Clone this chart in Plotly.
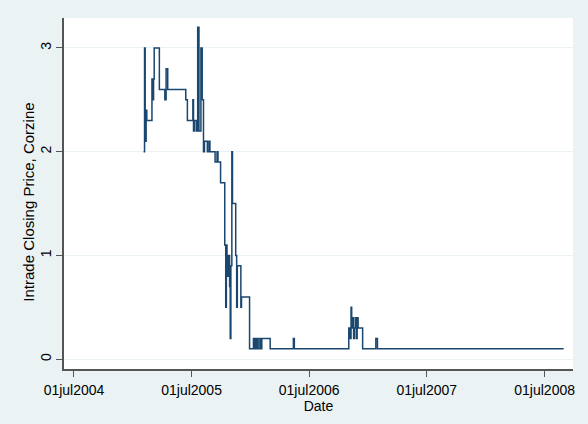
import plotly.graph_objects as go

# Intrade closing price for the Corzine contract (change points; held until next change)
dates = [
    "2005-02-02", "2005-02-05", "2005-02-07", "2005-02-10", "2005-02-12", "2005-02-28",
    "2005-03-03", "2005-03-05", "2005-03-07", "2005-03-23", "2005-04-09", "2005-04-13",
    "2005-04-18", "2005-06-13", "2005-06-18", "2005-07-05", "2005-07-07", "2005-07-10",
    "2005-07-16", "2005-07-20", "2005-07-24", "2005-07-30", "2005-08-03", "2005-08-07",
    "2005-08-10", "2005-08-19", "2005-08-24", "2005-08-27", "2005-09-12", "2005-09-18",
    "2005-09-21", "2005-09-29", "2005-10-12", "2005-10-15", "2005-10-17", "2005-10-19",
    "2005-10-21", "2005-10-23", "2005-10-25", "2005-10-27", "2005-10-29", "2005-10-31",
    "2005-11-03", "2005-11-05", "2005-11-15", "2005-11-18", "2005-11-20", "2005-12-01",
    "2005-12-03", "2005-12-28", "2006-01-09", "2006-01-13", "2006-01-17", "2006-01-21",
    "2006-01-26", "2006-01-31", "2006-02-04", "2006-03-02", "2006-05-13", "2006-05-16",
    "2006-11-01", "2006-11-04", "2006-11-08", "2006-11-10", "2006-11-13", "2006-11-16",
    "2006-11-19", "2006-11-22", "2006-11-25", "2006-11-27", "2006-11-30", "2006-12-14",
    "2007-01-24", "2007-01-29", "2008-08-29",
]
prices = [
    2.0, 3.0, 2.1, 2.4, 2.3, 2.7,
    2.5, 2.7, 3.0, 2.6, 2.5, 2.8,
    2.6, 2.5, 2.3, 2.5, 2.2, 2.3,
    2.2, 3.2, 2.2, 3.0, 2.5, 2.0,
    2.1, 2.0, 2.1, 2.0, 1.9, 2.0,
    1.9, 1.7, 1.1, 0.5, 1.1, 0.8,
    1.0, 0.8, 1.0, 0.7, 0.2, 0.9,
    2.0, 1.5, 1.0, 0.5, 0.9, 0.5,
    0.6, 0.1, 0.2, 0.1, 0.2, 0.1,
    0.2, 0.1, 0.2, 0.1, 0.2, 0.1,
    0.3, 0.2, 0.5, 0.3, 0.4, 0.2,
    0.3, 0.4, 0.2, 0.4, 0.3, 0.1,
    0.2, 0.1, 0.1,
]

x_tickvals = ["2004-07-01", "2005-07-01", "2006-07-01", "2007-07-01", "2008-07-01"]
x_ticktext = ["01jul2004", "01jul2005", "01jul2006", "01jul2007", "01jul2008"]
y_tickvals = [0, 1, 2, 3]

BG = "#EAF2F3"
NAVY = "#1A476F"
AXIS = "#555555"
FONT = "Liberation Sans, Arial, sans-serif"

fig = go.Figure(
    go.Scatter(
        x=dates, y=prices, mode="lines",
        line=dict(color=NAVY, width=1.5, shape="hv"),
        showlegend=False,
    )
)

fig.update_layout(
    width=588, height=424,
    paper_bgcolor=BG, plot_bgcolor="white",
    margin=dict(l=64, r=15, t=18, b=55),
    font=dict(family=FONT, size=14, color="#000000"),
)

fig.update_xaxes(
    type="date",
    range=["2004-05-31", "2008-09-27"],
    tickvals=x_tickvals, ticktext=x_ticktext,
    ticks="outside", ticklen=6, tickcolor=AXIS, tickwidth=1,
    ticklabelstandoff=1,
    showgrid=False, zeroline=False,
    showline=True, linecolor=AXIS, linewidth=1.5,
    title=dict(text="Date", standoff=0, font=dict(size=14)),
    tickfont=dict(size=14),
)

fig.update_yaxes(
    range=[-0.094, 3.289],
    tickvals=y_tickvals,
    tickangle=-90,
    ticks="outside", ticklen=6, tickcolor=AXIS, tickwidth=1,
    showgrid=True, gridcolor=BG, gridwidth=1,
    zeroline=False,
    showline=True, linecolor=AXIS, linewidth=1.5,
    tickfont=dict(size=14),
)

# Vertical axis title placed beside the rotated tick labels
fig.add_annotation(
    text="Intrade Closing Price, Corzine",
    xref="paper", yref="paper", x=-0.07, y=0.475,
    xanchor="center", yanchor="middle", textangle=-90,
    showarrow=False, font=dict(family=FONT, size=15, color="#000000"),
)

fig.write_html("out.html")
